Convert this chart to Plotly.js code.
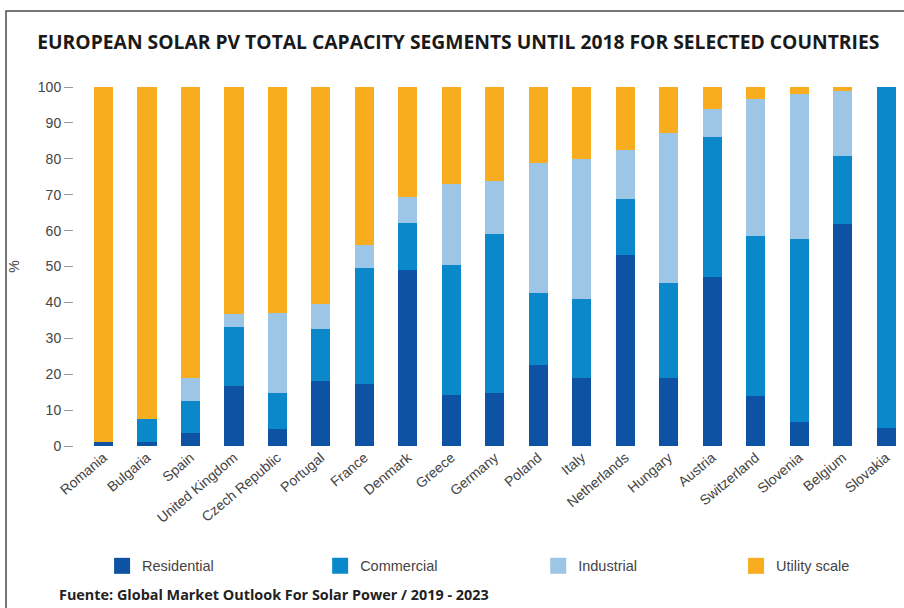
<!DOCTYPE html>
<html>
<head>
<meta charset="utf-8">
<script src="https://cdn.plot.ly/plotly-3.0.1.min.js"></script>
<style>
  html, body { margin: 0; padding: 0; background: #fff; }
  #plot { width: 904px; height: 608px; }
</style>
</head>
<body>
<div id="plot"></div>
<script>
// countries in the order shown
var countries = ['Romania', 'Bulgaria', 'Spain', 'United Kingdom', 'Czech Republic', 'Portugal',
  'France', 'Denmark', 'Greece', 'Germany', 'Poland', 'Italy', 'Netherlands', 'Hungary',
  'Austria', 'Switzerland', 'Slovenia', 'Belgium', 'Slovakia'];

// shares in %
var residential = [1, 1, 3.5, 16.7, 4.7, 18, 17.3, 49, 14.3, 14.7, 22.6, 19, 53.3, 19, 47, 14, 6.8, 61.8, 5];
var commercial  = [0, 6.5, 9, 16.4, 10, 14.5, 32.2, 13, 36.2, 44.3, 20, 22, 15.6, 26.4, 39, 44.4, 50.8, 18.9, 95];
var industrial  = [0, 0, 6.5, 3.6, 22.3, 7, 6.5, 7.3, 22.5, 14.7, 36.2, 39, 13.6, 41.8, 8, 38.3, 40.5, 18.3, 0];
var utility     = [99, 92.5, 81, 63.3, 63, 60.5, 44, 30.7, 27, 26.3, 21.2, 20, 17.5, 12.8, 6, 3.3, 1.9, 1, 0];

var names  = ['Residential', 'Commercial', 'Industrial', 'Utility scale'];
var colors = ['#0d52a3', '#0a88c9', '#9dc6e6', '#f8ad1e'];
var series = [residential, commercial, industrial, utility];

// one small legend per entry so they can sit where the original has them
var legendIds = ['legend', 'legend2', 'legend3', 'legend4'];
var legendX = [0.034, 0.298, 0.562, 0.8015];

var data = [];
series.forEach(function (vals, i) {
  data.push({
    x: countries,
    y: vals,
    name: names[i],
    type: 'bar',
    marker: {color: colors[i]},
    showlegend: false
  });
});
// bigger square swatches for the legend
names.forEach(function (n, i) {
  data.push({
    x: [null], y: [null],
    name: n,
    type: 'scatter',
    mode: 'markers',
    marker: {symbol: 'square', size: 20, color: colors[i]},
    showlegend: true,
    legend: legendIds[i]
  });
});

var layout = {
  width: 904,
  height: 608,
  barmode: 'stack',
  bargap: 0.56,
  paper_bgcolor: '#fff',
  plot_bgcolor: '#fff',
  margin: {l: 74, r: 4, t: 87, b: 162},
  font: {family: 'Liberation Sans, Arial, sans-serif', color: '#444'},
  title: {
    text: 'EUROPEAN SOLAR PV TOTAL CAPACITY SEGMENTS UNTIL 2018 FOR SELECTED COUNTRIES',
    font: {family: 'Open Sans', size: 19.3, color: '#1a1a1a', weight: 'bold'},
    xref: 'container', yref: 'container',
    x: 0.507, y: 0.931, xanchor: 'center', yanchor: 'middle'
  },
  xaxis: {
    range: [-0.68, 18.32],
    tickangle: -40,
    tickfont: {size: 14, color: '#444'},
    showgrid: false, zeroline: false, showline: false,
    ticks: ''
  },
  yaxis: {
    range: [0, 100],
    dtick: 10,
    title: {text: '%', font: {size: 14, color: '#444'}, standoff: 14},
    tickfont: {size: 14, color: '#444'},
    ticks: 'outside', ticklen: 9, tickcolor: '#999', tickwidth: 1,
    showgrid: false, zeroline: false, showline: false
  },
  annotations: [{
    text: 'Fuente: Global Market Outlook For Solar Power / 2019 - 2023',
    xref: 'paper', yref: 'paper',
    x: -0.021, y: -0.415, xanchor: 'left', yanchor: 'middle',
    showarrow: false,
    font: {family: 'Open Sans', size: 14.4, color: '#222', weight: 'bold'}
  }],
  shapes: [{
    type: 'rect', xref: 'paper', yref: 'paper',
    x0: -0.0823, x1: 1.2, y0: -0.6, y1: 1.2117,
    line: {color: '#4a4a4a', width: 1.5},
    layer: 'below'
  }]
};

legendIds.forEach(function (id, i) {
  layout[id] = {
    orientation: 'h',
    x: legendX[i], y: -0.334, xanchor: 'left', yanchor: 'middle',
    bgcolor: 'rgba(0,0,0,0)',
    font: {size: 14.5, color: '#444'}
  };
});

Plotly.newPlot('plot', data, layout, {displayModeBar: false});
</script>
</body>
</html>
